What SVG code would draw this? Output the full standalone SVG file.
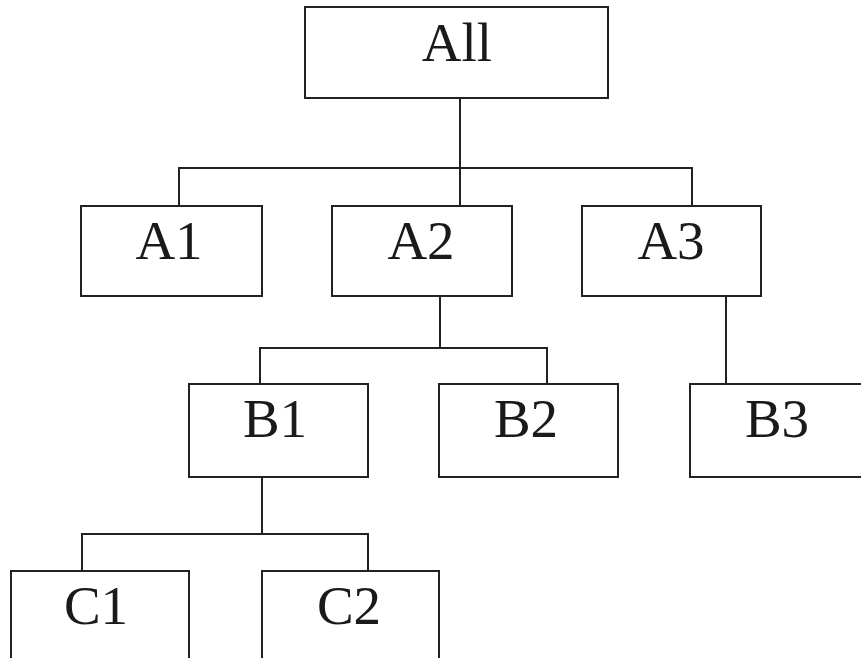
<svg xmlns="http://www.w3.org/2000/svg" width="861" height="658" viewBox="0 0 861 658">
<style>
.box{fill:#fff;stroke:#222;stroke-width:2}
.lbl{font-family:"Liberation Serif","Times New Roman",serif;font-size:55px;fill:#1a1a1a;text-anchor:middle}
.con{fill:none;stroke:#222;stroke-width:2}
</style>
<rect width="861" height="658" fill="#fff"/>
<g id="connectors">
<path class="con" d="M460 98V206"/>
<path class="con" d="M179 206V168H692V206"/>
<path class="con" d="M440 296V348"/>
<path class="con" d="M260 384V348H547V384"/>
<path class="con" d="M726 296V384"/>
<path class="con" d="M262 477V534"/>
<path class="con" d="M82 571V534H368V571"/>
</g>
<g id="node-all"><rect class="box" x="305" y="7" width="303" height="91"/><text class="lbl" x="457" y="61">All</text></g>
<g id="node-a1"><rect class="box" x="81" y="206" width="181" height="90"/><text class="lbl" x="169" y="259">A1</text></g>
<g id="node-a2"><rect class="box" x="332" y="206" width="180" height="90"/><text class="lbl" x="421" y="259">A2</text></g>
<g id="node-a3"><rect class="box" x="582" y="206" width="179" height="90"/><text class="lbl" x="671" y="259">A3</text></g>
<g id="node-b1"><rect class="box" x="189" y="384" width="179" height="93"/><text class="lbl" x="275" y="437">B1</text></g>
<g id="node-b2"><rect class="box" x="439" y="384" width="179" height="93"/><text class="lbl" x="526" y="437">B2</text></g>
<g id="node-b3"><rect class="box" x="690" y="384" width="180" height="93"/><text class="lbl" x="777" y="437">B3</text></g>
<g id="node-c1"><rect class="box" x="11" y="571" width="178" height="100"/><text class="lbl" x="96" y="624">C1</text></g>
<g id="node-c2"><rect class="box" x="262" y="571" width="177" height="100"/><text class="lbl" x="349" y="624">C2</text></g>
</svg>
